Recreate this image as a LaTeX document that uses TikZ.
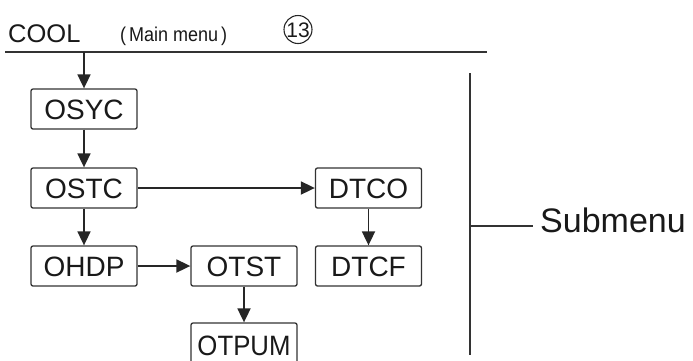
\documentclass[tikz,border=0pt]{standalone}
\usepackage{fontspec}
\setmainfont{Liberation Sans}
\usetikzlibrary{arrows.meta}
\begin{document}
\begin{tikzpicture}[x=1pt,y=-1pt,
  menubox/.style={draw=black!80, line width=1.3pt, rounded corners=2pt,
    minimum width=106pt, minimum height=40pt, inner sep=0pt,
    text height=20pt, text depth=0pt, font=\fontsize{28}{30}\selectfont, text=black!90},
  flow/.style={line width=1.8pt, draw=black!85, -{Triangle[length=14pt,width=13pt]}},
  rulebar/.style={line width=2.2pt, draw=black!80},
  titletext/.style={anchor=base west, inner sep=0pt, text=black!90}]
\useasboundingbox (0,0) rectangle (693,360);

% title
\node (cool) [titletext, font=\fontsize{25.5}{27}\selectfont] at (8,42) {COOL};
\node (mainmenu) [titletext, font=\fontsize{20}{22}\selectfont] at (120,41) {\scalebox{0.9}[1]{(\,Main menu\,)}};
\node (num) [draw=black!85, line width=1.1pt, circle, minimum size=28pt, inner sep=0pt,
  text height=15pt, text depth=0pt, font=\fontsize{21}{23}\selectfont, text=black!90] at (298,29.5) {13};

\coordinate (mlL) at (5,52);
\coordinate (mlR) at (487,52);
\coordinate (mlA) at (84,52);
\draw[rulebar] (mlL) -- (mlR);

% boxes
\node (osyc) [menubox] at (84,109) {OSYC};
\node (ostc) [menubox] at (84,188) {OSTC};
\node (ohdp) [menubox] at (84,266) {OHDP};
\node (otst) [menubox] at (244,266) {OTST};
\node (otpum) [menubox, minimum height=44pt] at (244,345) {\scalebox{0.92}[1]{OTPUM}};
\node (dtco) [menubox] at (368.5,188) {DTCO};
\node (dtcf) [menubox] at (368.5,266) {DTCF};

% arrows
\draw[flow] (mlA) -- (osyc.north);
\draw[flow] (osyc) -- (ostc);
\draw[flow] (ostc) -- (ohdp);
\draw[flow] (ostc) -- (dtco);
\draw[flow] (ohdp) -- (otst);
\draw[flow] (otst) -- (otpum);
\draw[flow] (dtco) -- (dtcf);

% submenu bracket
\coordinate (vt) at (470,73);
\coordinate (vb) at (470,355);
\coordinate (vm) at (470,226);
\draw[rulebar] (vt) -- (vb);
\node (sub) [anchor=base west, inner xsep=7pt, inner ysep=0pt, font=\fontsize{34}{36}\selectfont, text=black!90] at (533,232) {Submenu};
\draw[line width=1.8pt, draw=black!80] (vm) -- (vm -| sub.west);
\end{tikzpicture}
\end{document}
